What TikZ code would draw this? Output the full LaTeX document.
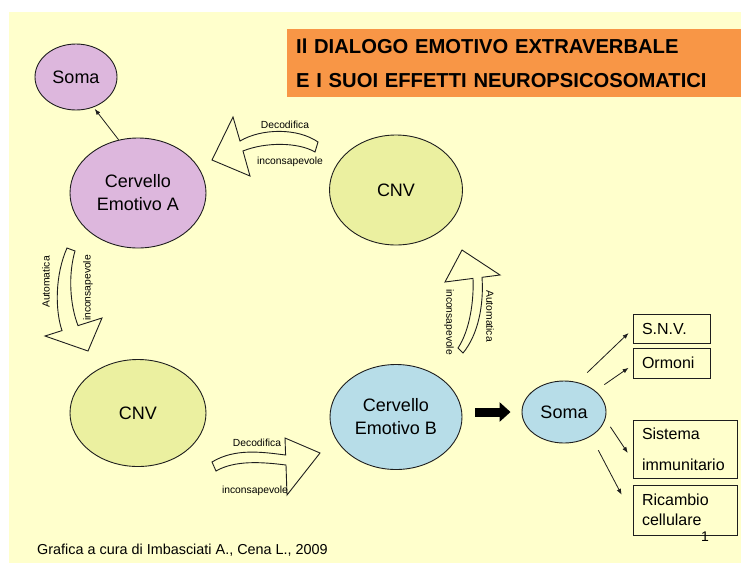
\documentclass[tikz,border=0pt]{standalone}
\usepackage{fontspec}
\setmainfont{Liberation Sans}
\usetikzlibrary{arrows.meta,calc,shapes.geometric}
\definecolor{bgyellow}{RGB}{255,255,204}
\definecolor{titleorange}{RGB}{248,150,70}
\definecolor{lilac}{RGB}{221,183,221}
\definecolor{cnvgreen}{RGB}{235,240,160}
\definecolor{lightblue}{RGB}{183,221,232}
\definecolor{ink}{RGB}{30,30,30}
\begin{document}
\begin{tikzpicture}[x=1pt,y=-1pt,
  ell/.style={ellipse, draw=ink, line width=0.9pt, inner sep=0pt, align=center,
    font=\fontsize{18}{23}\selectfont},
  box/.style={rectangle, draw=ink, line width=0.9pt, inner xsep=9pt, align=left,
    font=\fontsize{16}{20}\selectfont},
  blockarrow/.style={draw=ink, line width=0.9pt, fill=bgyellow, line join=miter},
  lbl/.style={font=\fontsize{10.3}{12}\selectfont, inner sep=0pt},
  thinarrow/.style={-{Latex[length=6pt,width=4.5pt]}, line width=0.8pt, draw=ink}]
\useasboundingbox (0,0) rectangle (741,563);
\fill[white] (0,0) rectangle (741,563);
\fill[bgyellow] (9,12) rectangle (741,563);

% title
\node[fill=titleorange, minimum width=454, minimum height=68, anchor=north west,
  inner xsep=9pt, inner ysep=0pt, text width=436, align=left,
  font=\fontsize{20.2}{34}\selectfont\bfseries] (title) at (287,29)
  {Il DIALOGO EMOTIVO EXTRAVERBALE\\E I SUOI EFFETTI NEUROPSICOSOMATICI};

% ellipses
\node[ell, fill=lilac, minimum width=82, minimum height=66] (somaA) at (76,77) {Soma};
\node[ell, fill=lilac, minimum width=136, minimum height=110] (cervA) at (138,193) {Cervello\\Emotivo A};
\node[ell, fill=cnvgreen, minimum width=133, minimum height=110] (cnv1) at (396,190) {CNV};
\node[ell, fill=cnvgreen, minimum width=136, minimum height=107] (cnv2) at (138,413) {CNV};
\node[ell, fill=lightblue, minimum width=132, minimum height=105] (cervB) at (396,417) {Cervello\\Emotivo B};
\node[ell, fill=lightblue, minimum width=84, minimum height=62] (somaB) at (564,412) {Soma};

% boxes
\node[box, text width=59, minimum height=29] (snv) at (671.5,328.5) {S.N.V.};
\node[box, text width=59, minimum height=30] (ormoni) at (671.5,363) {Ormoni};
\node[box, text width=86, minimum height=58, font=\fontsize{16}{31}\selectfont] (sist) at (685,449) {Sistema\\immunitario};
\node[box, text width=86, minimum height=50] (ric) at (685,510) {Ricambio\\cellulare};
\node[font=\fontsize{14}{16}\selectfont, inner sep=0pt] (pnum) at (705,537) {1};

% small arrows
\draw[thinarrow, shorten >=2pt] (cervA.110) -- (somaA.-60);
\draw[thinarrow, shorten <=13.8pt, shorten >=5.5pt] (somaB.66.2) -- (snv.181);
\draw[thinarrow, shorten <=10.9pt, shorten >=4.8pt] (somaB.34) -- (ormoni.183.4);
\draw[thinarrow, shorten <=9.1pt, shorten >=8.6pt] (somaB.-10.4) -- (sist.192);
\draw[thinarrow, shorten <=15.8pt, shorten >=23.4pt] (somaB.-42.2) -- (ric.186.1);

% thick black arrow
\draw[line width=9pt, -{Triangle[length=11pt,width=19pt]}, shorten <=13pt, shorten >=11pt]
  (cervB.east |- somaB.west) -- (somaB.west);

% block arrows
\draw[blockarrow] (318,142) .. controls (298,128) and (262,128) .. (240,141)
  -- (233,117) -- (212,160) -- (250,176) -- (243,151)
  .. controls (265,142) and (298,142) .. (315,152) -- cycle;
\draw[blockarrow] (67,248) .. controls (55,275) and (55,310) .. (62,330.6)
  -- (45,336) -- (88,351) -- (102,318) -- (78,325.6)
  .. controls (70,305) and (68,275) .. (75,251) -- cycle;
\draw[blockarrow] (458,348) .. controls (470,330) and (474,300) .. (473,278.4)
  -- (445,282) -- (462,250) -- (500,275) -- (482,277.3)
  .. controls (484,305) and (478,335) .. (463,353) -- cycle;
\draw[blockarrow] (212,462) .. controls (235,448) and (262,452) .. (285.6,455)
  -- (285,438) -- (320,453) -- (287,495) -- (286,465)
  .. controls (262,462) and (235,460) .. (216,471) -- cycle;

% block arrow labels
\node[lbl] (l1a) at (285,125) {Decodifica};
\node[lbl] (l1b) at (290,162) {inconsapevole};
\node[lbl, rotate=90] (l2a) at (46,282) {Automatica};
\node[lbl, rotate=90] (l2b) at (88,288) {inconsapevole};
\node[lbl, rotate=-90] (l3a) at (449,322) {inconsapevole};
\node[lbl, rotate=-90] (l3b) at (490,316) {Automatica};
\node[lbl] (l4a) at (257,443) {Decodifica};
\node[lbl] (l4b) at (255,491) {inconsapevole};

% credits
\node[font=\fontsize{14.4}{16}\selectfont, inner sep=0pt, anchor=west] (credit) at (37,550)
  {Grafica a cura di Imbasciati A., Cena L., 2009};
\end{tikzpicture}
\end{document}
